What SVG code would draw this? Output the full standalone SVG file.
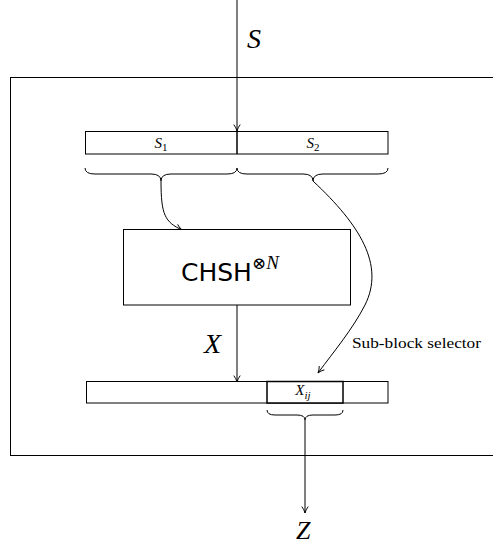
<svg xmlns="http://www.w3.org/2000/svg" width="493" height="545" viewBox="0 0 493 545">
<defs>
<marker id="arr" viewBox="0 0 10 10" refX="9" refY="5" markerWidth="8" markerHeight="8" markerUnits="userSpaceOnUse" orient="auto">
<path d="M1,1 Q5,4 9,5 Q5,6 1,9" fill="none" stroke="#000" stroke-width="1.2"/>
</marker>
</defs>
<style>
.box{fill:#fff;stroke:#000;stroke-width:1}
.ln{fill:none;stroke:#000;stroke-width:1}
.m{font-family:"Liberation Serif",serif;font-style:italic;fill:#000}
.t{font-family:"Liberation Serif",serif;fill:#000}
.s{font-family:"DejaVu Sans","Liberation Sans",sans-serif;fill:#000}
</style>
<rect id="frame" x="10.5" y="77.5" width="483" height="378" fill="none" stroke="#000" stroke-width="1"/>
<g id="connectors">
<line class="ln" x1="237" y1="0" x2="237" y2="131" marker-end="url(#arr)"/>
<path class="ln" d="M161,181 C161,215 165,222 182,230" marker-end="url(#arr)"/>
<path class="ln" d="M313,181 C360,225 385,265 365,305 C352,330 335,350 318,373" marker-end="url(#arr)"/>
<line class="ln" x1="237" y1="305" x2="237" y2="382" marker-end="url(#arr)"/>
<line class="ln" x1="305" y1="420" x2="305" y2="513" marker-end="url(#arr)"/>
</g>
<g id="braces">
<path class="ln" d="M85,168 Q85,174 95,174 L151,174 Q161,174 161,181 Q161,174 171,174 L227,174 Q237,174 237,168"/>
<path class="ln" d="M237,168 Q237,174 247,174 L303,174 Q313,174 313,181 Q313,174 323,174 L378,174 Q388,174 388,168"/>
<path class="ln" d="M267,410 Q267,415 275,415 L297,415 Q305,415 305,420 Q305,415 313,415 L335,415 Q343,415 343,410"/>
</g>
<g id="s-register">
<rect class="box" x="85.5" y="131.5" width="302.5" height="22.5"/>
<line x1="237" y1="131.5" x2="237" y2="154" stroke="#000" stroke-width="1.5"/>
<text class="m" x="161" y="148" font-size="15" text-anchor="middle">S<tspan font-size="11" font-style="normal" dy="3">1</tspan></text>
<text class="m" x="313" y="148" font-size="15" text-anchor="middle">S<tspan font-size="11" font-style="normal" dy="3">2</tspan></text>
</g>
<g id="chsh">
<rect class="box" x="123.5" y="229.5" width="227" height="75.5"/>
<text class="s" x="181" y="281" font-size="25">CHSH<tspan font-family="DejaVu Serif" font-size="17" dy="-12">⊗</tspan><tspan font-family="Liberation Serif" font-style="italic" font-size="19">N</tspan></text>
</g>
<g id="x-register">
<rect class="box" x="86.5" y="381.5" width="301.5" height="21.5"/>
<rect x="267" y="381.5" width="76" height="21.5" fill="#fff" stroke="#000" stroke-width="1.5"/>
<text class="m" x="303" y="395" font-size="15" text-anchor="middle">X<tspan font-size="11" dy="4">ij</tspan></text>
</g>
<text class="m" x="247" y="48" font-size="28">S</text>
<text class="m" x="204" y="353" font-size="28">X</text>
<text class="m" x="296" y="539" font-size="26">Z</text>
<text class="t" x="352" y="348" font-size="14" textLength="129" lengthAdjust="spacingAndGlyphs">Sub-block selector</text>
</svg>
